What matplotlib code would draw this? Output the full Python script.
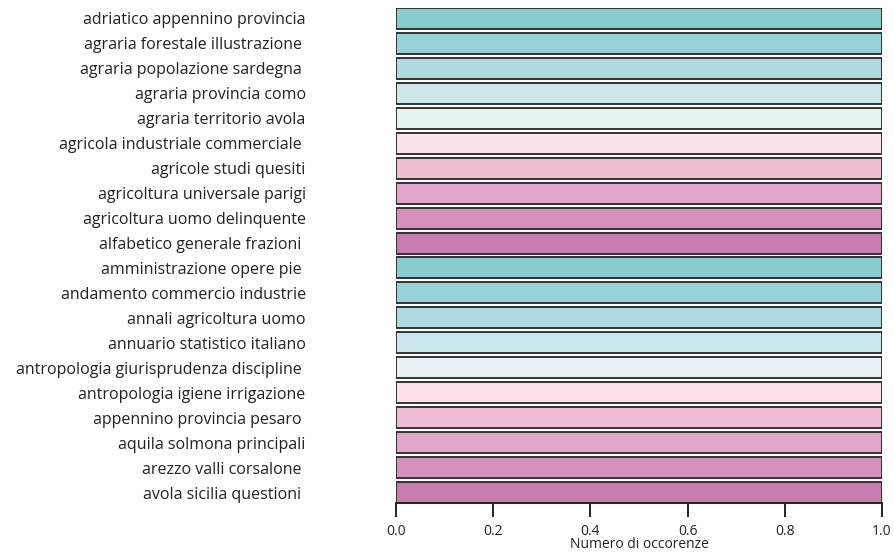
import numpy as np
import matplotlib
matplotlib.use('Agg')
import matplotlib.pyplot as plt

plt.rcParams['font.family'] = ['Open Sans', 'DejaVu Sans']

labels = [
    'adriatico appennino provincia',
    'agraria forestale illustrazione ',
    'agraria popolazione sardegna ',
    'agraria provincia como',
    'agraria territorio avola',
    'agricola industriale commerciale ',
    'agricole studi quesiti',
    'agricoltura universale parigi',
    'agricoltura uomo delinquente',
    'alfabetico generale frazioni ',
    'amministrazione opere pie ',
    'andamento commercio industrie',
    'annali agricoltura uomo',
    'annuario statistico italiano',
    'antropologia giurisprudenza discipline ',
    'antropologia igiene irrigazione',
    'appennino provincia pesaro ',
    'aquila solmona principali',
    'arezzo valli corsalone ',
    'avola sicilia questioni ',
]
counts = [1, 1, 1, 1, 1, 1, 1, 1, 1, 1,
          1, 1, 1, 1, 1, 1, 1, 1, 1, 1]
palette = ['#88cdd0', '#98d0d7', '#afdbe0', '#cbe6ea', '#e5f1f3',
           '#fde0ea', '#efbcd5', '#e0a5c9', '#d690bf', '#c97caf']
xticks = [0.0, 0.2, 0.4, 0.6, 0.8, 1.0]

fig = plt.figure(figsize=(8.94, 5.55), dpi=100)
ax = fig.add_axes([396 / 894, 1 - 503 / 555, 486 / 894, 495 / 555])

y = np.arange(len(labels))
colors = [palette[i % len(palette)] for i in range(len(labels))]
ax.barh(y, counts, height=0.84, color=colors, edgecolor='#333333', linewidth=1.4)

ax.set_ylim(len(labels) - 1 + 0.42, -0.42)
ax.set_xlim(0, 1.0)

for s in ['top', 'right', 'left']:
    ax.spines[s].set_visible(False)
ax.spines['bottom'].set_linewidth(1.4)
ax.spines['bottom'].set_color('#222222')

ax.set_yticks(y)
ax.set_yticklabels(labels, fontsize=11.5, color='#222222')
ax.tick_params(axis='y', length=0, pad=65)

ax.set_xticks(xticks)
ax.set_xticklabels(['%.1f' % t for t in xticks], fontsize=10, color='#222222')
ax.tick_params(axis='x', length=10, width=1.4, color='#222222', pad=5)
ax.set_xlabel('Numero di occorenze', fontsize=10, color='#222222', labelpad=-1)

fig.savefig('out.png', dpi=100)
